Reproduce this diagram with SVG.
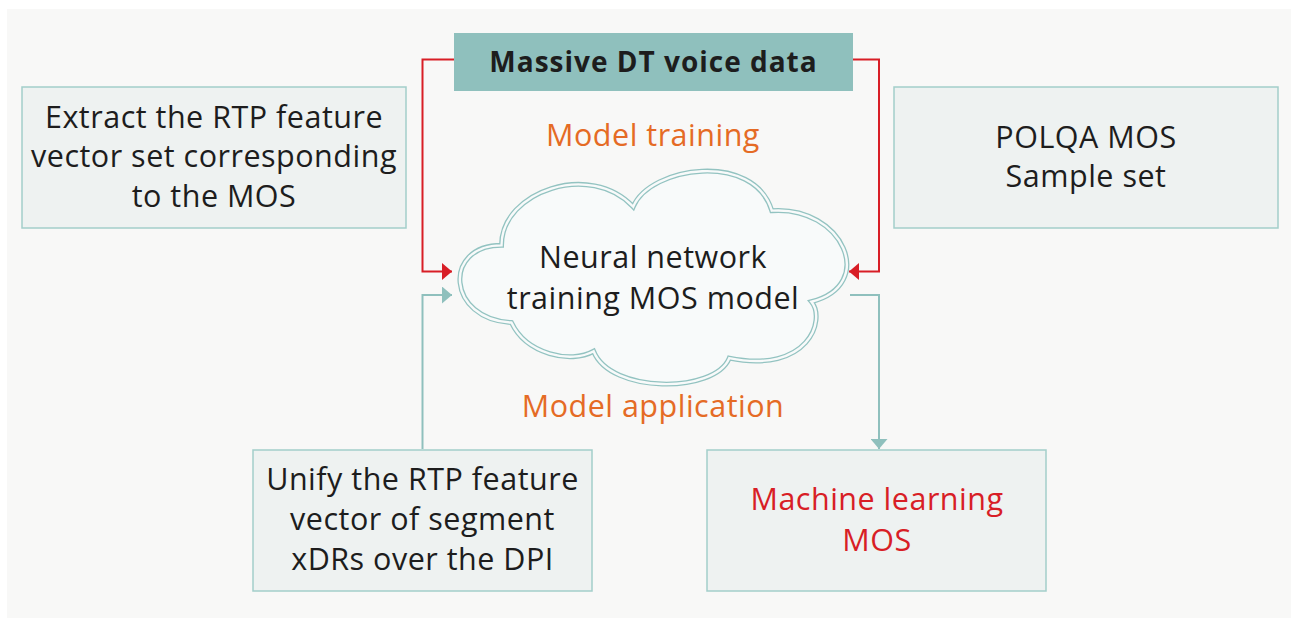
<svg xmlns="http://www.w3.org/2000/svg" width="1291" height="618" viewBox="0 0 1291 618">
<defs>
<style>
.box{fill:#eef2f1;stroke:#a3ceca;stroke-width:1.5}
.t{font-family:"Open Sans","Liberation Sans",sans-serif;font-size:30.5px;letter-spacing:0.5px;fill:#1d1d1d;text-anchor:middle}
.orange{fill:#e56b25}
.red{fill:#d81e26}
.title{font-weight:bold;font-size:28px;letter-spacing:1px}
.rl{fill:none;stroke:#d81e26;stroke-width:2}
.tl{fill:none;stroke:#8fc0bd;stroke-width:2}
</style>
<marker id="ar" viewBox="0 0 10 17" refX="10" refY="8.5" markerWidth="10" markerHeight="17" markerUnits="userSpaceOnUse" orient="auto"><path d="M0,0 L10,8.5 L0,17 Z" fill="#d81e26"/></marker>
<marker id="at" viewBox="0 0 10 17" refX="10" refY="8.5" markerWidth="10" markerHeight="17" markerUnits="userSpaceOnUse" orient="auto"><path d="M0,0 L10,8.5 L0,17 Z" fill="#8fc0bd"/></marker>
</defs>
<rect x="7" y="9" width="1284" height="609" fill="#f8f8f7"/>
<g id="connectors">
<path class="rl" d="M454,59.5 H422.5 V271.5 H452" marker-end="url(#ar)"/>
<path class="rl" d="M853,59.5 H879 V271.5 H849" marker-end="url(#ar)"/>
<path class="tl" d="M422.5,449 V295 H452" marker-end="url(#at)"/>
<path class="tl" d="M850,295 H879 V449" marker-end="url(#at)"/>
</g>
<g id="data">
<rect x="454" y="33" width="399" height="58" fill="#8fc0bd"/>
<text class="t title" x="653.5" y="72">Massive DT voice data</text>
</g>
<g id="extract">
<rect class="box" x="22" y="87" width="384" height="141"/>
<text class="t" x="214" y="128">Extract the RTP feature</text>
<text class="t" x="214" y="167">vector set corresponding</text>
<text class="t" x="214" y="207">to the MOS</text>
</g>
<g id="polqa">
<rect class="box" x="894" y="87" width="384" height="141"/>
<text class="t" x="1086" y="148">POLQA MOS</text>
<text class="t" x="1086" y="187">Sample set</text>
</g>
<g id="cloud">
<path d="M500,245 C500,190 590,160 633,206 C650,165 755,150 773,210 C845,205 880,285 813,302 C828,320 810,375 730,359 C715,395 610,395 593,352 C570,365 525,355 510,323 C445,320 440,245 500,245 Z" fill="#f8fafa" stroke="#93c3c1" stroke-width="5" transform="translate(653,278) scale(0.99) translate(-653,-278)"/>
<path d="M500,245 C500,190 590,160 633,206 C650,165 755,150 773,210 C845,205 880,285 813,302 C828,320 810,375 730,359 C715,395 610,395 593,352 C570,365 525,355 510,323 C445,320 440,245 500,245 Z" fill="none" stroke="#f8fafa" stroke-width="2.4" transform="translate(653,278) scale(0.99) translate(-653,-278)"/>
<text class="t" x="653" y="268">Neural network</text>
<text class="t" x="653" y="309">training MOS model</text>
</g>
<g id="labels">
<text class="t orange" x="653" y="146">Model training</text>
<text class="t orange" x="653" y="417">Model application</text>
</g>
<g id="unify">
<rect class="box" x="253" y="450" width="339" height="141"/>
<text class="t" x="422.5" y="490">Unify the RTP feature</text>
<text class="t" x="422.5" y="530">vector of segment</text>
<text class="t" x="422.5" y="570">xDRs over the DPI</text>
</g>
<g id="ml">
<rect class="box" x="707" y="450" width="339" height="141"/>
<text class="t red" x="877" y="510">Machine learning</text>
<text class="t red" x="877" y="551">MOS</text>
</g>
</svg>
